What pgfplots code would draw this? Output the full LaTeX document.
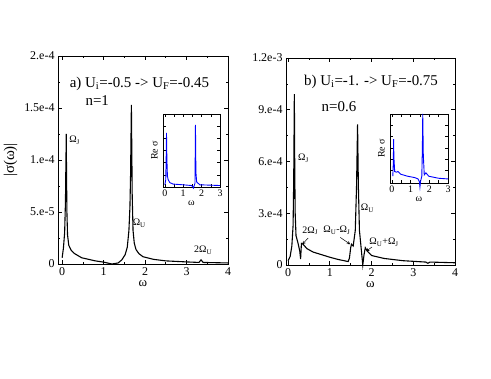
\documentclass[border=0pt]{standalone}
\usepackage{pgfplots}
\pgfplotsset{compat=1.18}
\usepackage{fontspec}
\setmainfont{Liberation Serif}
\begin{document}
\begin{tikzpicture}
\path[use as bounding box] (0bp,0bp) rectangle (491bp,379bp);
\pgfplotsset{
  mainax/.style={scale only axis, anchor=south west, clip=false,
    axis line style={line width=0.8pt},
    tick style={black, line width=0.7pt},
    major tick length=4bp, minor tick length=2bp,
    minor x tick num=1, minor y tick num=1,
    xmin=-0.1, xmax=4, xtick={0,1,2,3,4},
    scaled y ticks=false,
    /pgf/number format/assume math mode=true,
    tick label style={font=\fontsize{12}{14}\selectfont},
    xticklabel style={inner sep=0pt, anchor=north, yshift=-3.5bp},
    xlabel={ω}, xlabel style={font=\fontsize{13}{15}\selectfont, at={(axis description cs:0.5,0)}, anchor=north, inner sep=0pt, yshift=-16.5bp},
  },
  insetax/.style={scale only axis, anchor=south west, clip=false,
    axis background/.style={fill=white},
    axis line style={line width=0.7pt},
    tick style={black, line width=0.6pt},
    major tick length=3bp, minor tick length=3bp,
    minor x tick num=1,
    xmin=-0.1, xmax=3, xtick={0,1,2,3},
    ymin=0, ymax=1, ytick={0.167,0.333,0.5,0.667,0.833}, yticklabels={},
    /pgf/number format/assume math mode=true,
    tick label style={font=\fontsize{10}{11}\selectfont},
    xticklabel style={inner sep=0pt, anchor=north, yshift=-3bp},
    xlabel={ω}, xlabel style={font=\fontsize{10}{11}\selectfont, at={(axis description cs:0.5,0)}, anchor=north, inner sep=0pt, yshift=-14bp},
    ylabel={Re σ}, ylabel style={font=\fontsize{10}{11}\selectfont, yshift=-5bp},
  },
}
% ---------- left main panel ----------
\begin{axis}[mainax, at={(58bp,115bp)}, width=170bp, height=208bp,
  ymin=0, ymax=2e-4, ytick={0,5e-5,1e-4,1.5e-4,2e-4},
  yticklabels={0,5.e-5,1.e-4,1.5e-4,2.e-4},
  ylabel={|σ(ω)|}, ylabel style={font=\fontsize{15}{18}\selectfont, yshift=0bp}]
\addplot[black, line width=1.1pt] coordinates {
(0.0,0.06e-4) (0.03,0.15e-4) (0.06,0.3e-4) (0.08,0.6e-4) (0.09,0.95e-4)
(0.1,1.25e-4) (0.105,0.9e-4) (0.115,0.5e-4) (0.13,0.28e-4) (0.16,0.18e-4)
(0.22,0.13e-4) (0.3,0.1e-4) (0.47,0.06e-4) (0.8,0.03e-4) (1.0,0.018e-4)
(1.2,0.0) (1.35,0.01e-4) (1.44,0.04e-4) (1.52,0.09e-4) (1.57,0.16e-4)
(1.61,0.32e-4) (1.635,0.55e-4) (1.65,0.85e-4) (1.66,1.2e-4) (1.67,1.53e-4)
(1.68,1.1e-4) (1.69,0.65e-4) (1.71,0.32e-4) (1.74,0.2e-4) (1.78,0.14e-4)
(1.85,0.1e-4) (1.95,0.07e-4) (2.2,0.045e-4) (2.5,0.03e-4) (3.0,0.02e-4)
(3.3,0.015e-4) (3.35,0.04e-4) (3.4,0.015e-4) (4.0,0.01e-4)
};
\node[anchor=base west, font=\fontsize{15}{18}\selectfont] at (axis cs:0.1,1.7e-4) {a) U\textsubscript{i}=-0.5 -> U\textsubscript{F}=-0.45};
\node[anchor=base west, font=\fontsize{15}{18}\selectfont] at (axis cs:0.48,1.52e-4) {n=1};
\node[font=\fontsize{10}{12}\selectfont] at (axis cs:0.3,1.19e-4) {Ω\textsubscript{J}};
\node[font=\fontsize{10}{12}\selectfont] at (axis cs:1.86,0.39e-4) {Ω\textsubscript{U}};
\node[font=\fontsize{10}{12}\selectfont] at (axis cs:3.4,0.13e-4) {2Ω\textsubscript{U}};
\end{axis}
% ---------- left inset ----------
\begin{axis}[insetax, at={(163bp,192bp)}, width=57bp, height=73bp]
\addplot[blue, line width=0.9pt] coordinates {
(0.0,0.03) (0.05,0.1) (0.08,0.5) (0.09,0.74) (0.11,0.4) (0.14,0.15)
(0.18,0.1) (0.27,0.06) (0.45,0.04) (1.0,0.03) (1.45,0.02) (1.5,0.01)
(1.55,-0.015) (1.6,0.02) (1.64,0.05) (1.665,0.85) (1.69,0.2) (1.73,0.07)
(1.9,0.03) (2.5,0.025) (3.0,0.02)
};
\end{axis}
% ---------- right main panel ----------
\begin{axis}[mainax, at={(286bp,114bp)}, width=169bp, height=207bp,
  xmin=-0.05,
  ymin=0, ymax=1.2e-3, ytick={0,3e-4,6e-4,9e-4,1.2e-3},
  yticklabels={0,3.e-4,6.e-4,9.e-4,1.2e-3}]
\addplot[black, line width=1.1pt] coordinates {
(0.0,0.25e-4) (0.05,0.5e-4) (0.09,1.1e-4) (0.12,2.3e-4) (0.135,5e-4)
(0.15,9.9e-4) (0.16,5.5e-4) (0.17,3e-4) (0.19,1.7e-4) (0.24,1.25e-4)
(0.28,0.8e-4) (0.3,0.35e-4) (0.32,1.25e-4) (0.36,1.2e-4) (0.45,0.95e-4)
(0.6,0.75e-4) (0.8,0.6e-4) (1.0,0.45e-4) (1.2,0.32e-4) (1.44,0.2e-4)
(1.47,0.4e-4) (1.5,1.0e-4) (1.52,1.2e-4) (1.56,1.1e-4) (1.61,2.0e-4)
(1.64,4.5e-4) (1.665,8.15e-4) (1.685,4.5e-4) (1.71,2.0e-4) (1.75,1.0e-4)
(1.79,0.0) (1.82,0.6e-4) (1.85,1.0e-4) (1.9,0.8e-4) (2.0,0.55e-4)
(2.3,0.38e-4) (2.75,0.25e-4) (3.3,0.17e-4) (3.35,0.1e-4) (3.4,0.17e-4)
(4.0,0.13e-4)
};
\node[anchor=base west, font=\fontsize{15}{18}\selectfont] at (axis cs:0.3,1.04e-3) {b) U\textsubscript{i}=-1. -> U\textsubscript{F}=-0.75};
\node[anchor=base west, font=\fontsize{15}{18}\selectfont] at (axis cs:0.72,0.89e-3) {n=0.6};
\node[font=\fontsize{10}{12}\selectfont] at (axis cs:0.37,6.2e-4) {Ω\textsubscript{J}};
\node[font=\fontsize{10}{12}\selectfont] at (axis cs:1.9,3.3e-4) {Ω\textsubscript{U}};
\node[font=\fontsize{10}{12}\selectfont] at (axis cs:0.53,2.0e-4) {2Ω\textsubscript{J}};
\draw[->, >=stealth, line width=0.5pt] (axis cs:0.48,1.56e-4) -- (axis cs:0.34,1.2e-4);
\node[font=\fontsize{10}{12}\selectfont] at (axis cs:1.17,2.02e-4) {Ω\textsubscript{U}-Ω\textsubscript{J}};
\draw[->, >=stealth, line width=0.5pt] (axis cs:1.25,1.6e-4) -- (axis cs:1.49,1.2e-4);
\node[font=\fontsize{10}{12}\selectfont] at (axis cs:2.3,1.33e-4) {Ω\textsubscript{U}+Ω\textsubscript{J}};
\draw[->, >=stealth, line width=0.5pt] (axis cs:2.01,1.04e-4) -- (axis cs:1.87,0.8e-4);
\end{axis}
% ---------- right inset ----------
\begin{axis}[insetax, at={(390bp,196bp)}, width=58bp, height=69bp, ymin=-0.02]
\addplot[blue, line width=0.9pt] coordinates {
(0.05,0.08) (0.08,0.3) (0.09,0.63) (0.11,0.35) (0.15,0.15) (0.24,0.14)
(0.32,0.15) (0.47,0.11) (0.84,0.08) (1.22,0.06) (1.4,0.04) (1.47,0.0)
(1.5,-0.08) (1.53,0.0) (1.6,0.08) (1.63,0.5) (1.65,1.0) (1.68,0.4)
(1.73,0.1) (1.82,0.13) (1.97,0.08) (2.5,0.05) (3.0,0.04)
};
\end{axis}
\end{tikzpicture}
\end{document}
